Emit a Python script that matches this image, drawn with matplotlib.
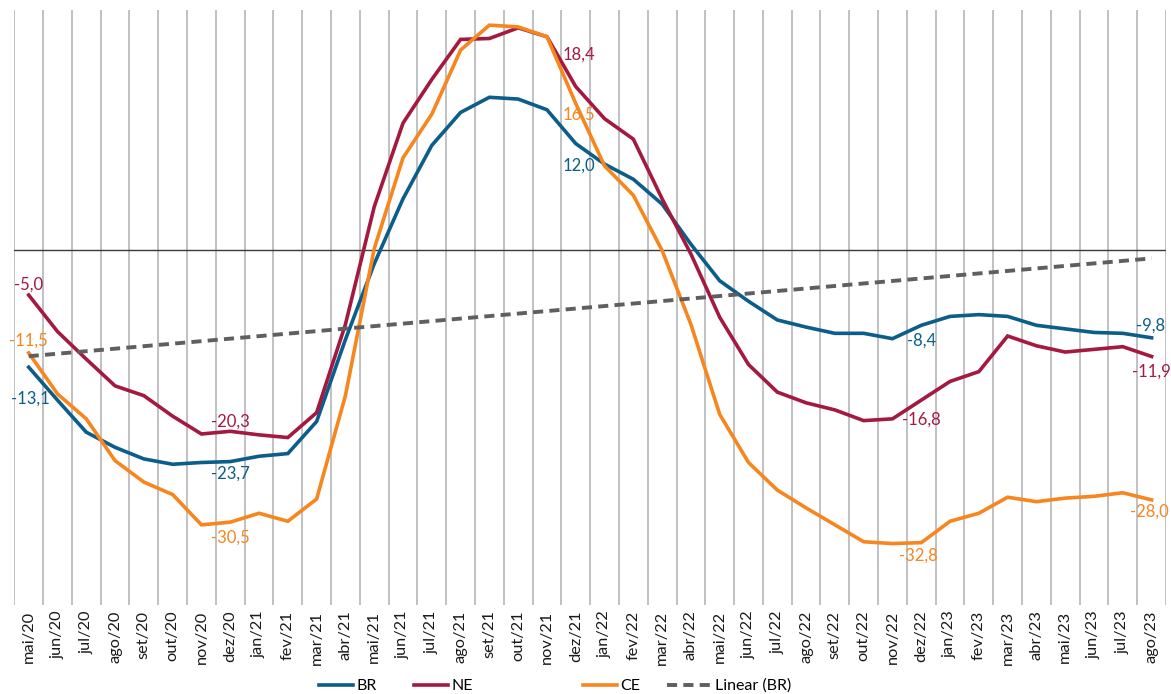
import numpy as np
import matplotlib
matplotlib.use("Agg")
import matplotlib.pyplot as plt
from matplotlib.lines import Line2D

plt.rcParams['font.family'] = ['Lato', 'DejaVu Sans']

months = ["mai/20", "jun/20", "jul/20", "ago/20", "set/20", "out/20", "nov/20", "dez/20",
          "jan/21", "fev/21", "mar/21", "abr/21", "mai/21", "jun/21", "jul/21", "ago/21",
          "set/21", "out/21", "nov/21", "dez/21", "jan/22", "fev/22", "mar/22", "abr/22",
          "mai/22", "jun/22", "jul/22", "ago/22", "set/22", "out/22", "nov/22", "dez/22",
          "jan/23", "fev/23", "mar/23", "abr/23", "mai/23", "jun/23", "jul/23", "ago/23"]

br = [-13.1, -16.8, -20.4, -22.1, -23.4, -24.0, -23.8, -23.7,
      -23.1, -22.8, -19.2, -10.0, -1.5, 5.8, 11.8, 15.5,
      17.2, 17.0, 15.8, 12.0, 9.7, 8.0, 5.2, 0.7,
      -3.4, -5.7, -7.8, -8.6, -9.3, -9.3, -9.9, -8.4,
      -7.4, -7.2, -7.4, -8.4, -8.8, -9.2, -9.3, -9.8]

ne = [-5.0, -9.1, -12.2, -15.2, -16.3, -18.6, -20.6, -20.3,
      -20.7, -21.0, -18.2, -8.3, 4.9, 14.3, 19.2, 23.7,
      23.8, 25.0, 24.0, 18.4, 14.8, 12.5, 5.8, -0.4,
      -7.5, -12.8, -15.9, -17.1, -17.9, -19.1, -18.9, -16.8,
      -14.7, -13.6, -9.6, -10.7, -11.4, -11.1, -10.8, -11.9]

ce = [-11.5, -16.1, -18.9, -23.6, -26.0, -27.4, -30.8, -30.5,
      -29.5, -30.4, -27.9, -16.3, 0.2, 10.4, 15.3, 22.5,
      25.3, 25.1, 24.0, 16.5, 9.5, 6.2, 0.0, -8.3,
      -18.4, -23.8, -26.9, -28.9, -30.8, -32.7, -32.9, -32.8,
      -30.4, -29.5, -27.7, -28.2, -27.8, -27.6, -27.2, -28.0]

series_names = ["BR", "NE", "CE"]
colors = {"BR": "#0b5d8a", "NE": "#a3193f", "CE": "#f7861e"}
trend_color = "#5f5f5f"

# label positions: (index, series, pixel offset x, pixel offset y)
label_spec = [
    (0, "NE", 0, 10), (0, "CE", 0, 12), (0, "BR", 2, -31),
    (7, "NE", 0, 10), (7, "BR", 0, -12), (7, "CE", 0, -15),
    (19, "NE", 3, 32), (19, "CE", 3, -11), (19, "BR", 3, -22),
    (31, "BR", 0, -15), (31, "NE", 0, -19), (31, "CE", -3, -13),
    (39, "BR", -1, 12), (39, "NE", 0, -15), (39, "CE", -2, -12),
]

W, H = 1171, 694
fig = plt.figure(figsize=(W / 100, H / 100), dpi=100)
ax = fig.add_axes([14.3 / W, 1 - 605 / H, (1166 - 14.3) / W, (605 - 10) / H])

x = np.arange(len(months))
data = {"BR": br, "NE": ne, "CE": ce}

# vertical gridlines at category boundaries
for b in np.arange(len(months) + 1) - 0.5:
    ax.axvline(b, color="#bcbcc0", lw=1.3, zorder=0)
ax.axhline(0, color="#3a3a3a", lw=1.0, zorder=1)

for name in series_names:
    ax.plot(x, data[name], color=colors[name], lw=2.6, solid_joinstyle="miter",
            label=name, zorder=3)

coef = np.polyfit(x, br, 1)
trend = np.polyval(coef, x)
ax.plot(x, trend, color=trend_color, lw=2.8, dashes=(2.6, 1.6), label="Linear (BR)", zorder=4)

for i, name, dx, dy in label_spec:
    v = data[name][i]
    ax.annotate(f"{v:.1f}".replace(".", ","), (x[i], v), xytext=(dx, dy),
                textcoords="offset pixels", ha="center", va="center",
                color=colors[name], fontsize=12, zorder=5)

ax.set_xlim(-0.5, len(months) - 0.5)
ax.set_ylim(-39.8, 27.0)
ax.set_yticks([])
ax.set_xticks(x)
ax.set_xticklabels(months, rotation=90, fontsize=11.8, color="#1a1a1a")
ax.tick_params(axis="x", length=0, pad=4)
for s in ax.spines.values():
    s.set_visible(False)

# legend entries placed individually (irregular spacing as in the original)
leg_items = [
    ("BR", Line2D([], [], color=colors["BR"], lw=2.6), 319, 2.1),
    ("NE", Line2D([], [], color=colors["NE"], lw=2.6), 414, 2.1),
    ("CE", Line2D([], [], color=colors["CE"], lw=2.6), 583, 2.1),
    ("Linear (BR)", Line2D([], [], color=trend_color, lw=2.8, dashes=(2.6, 1.6)), 667, 2.75),
]
for text, h, px, hl in leg_items:
    fig.legend([h], [text], loc="center left", bbox_to_anchor=(px / W, 1 - 686 / H),
               frameon=False, fontsize=11.5, handlelength=hl, handletextpad=0.25,
               borderpad=0, borderaxespad=0)

fig.savefig("out.png", dpi=100, facecolor="white")
